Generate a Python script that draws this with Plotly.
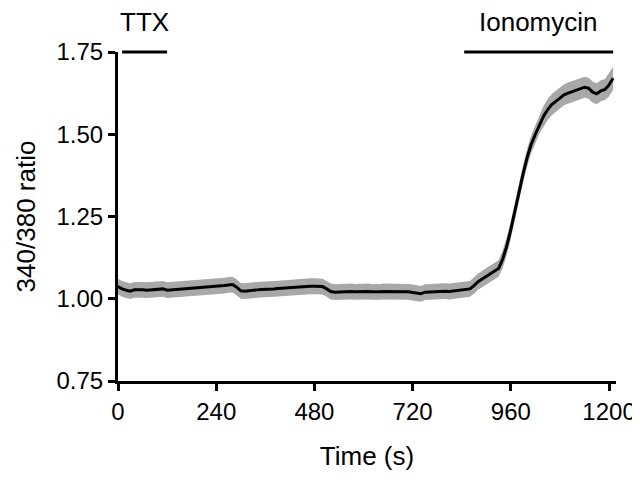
import plotly.graph_objects as go

# time points (s) and mean 340/380 ratio
time_s = list(range(0, 1220, 10))
ratio_mean = [
    1.037, 1.030, 1.026, 1.023, 1.027, 1.028, 1.027, 1.026, 1.027, 1.026,
    1.027, 1.030, 1.026, 1.027, 1.028, 1.029, 1.030, 1.030, 1.031, 1.031,
    1.032, 1.033, 1.034, 1.035, 1.036, 1.037, 1.040, 1.042, 1.043, 1.035,
    1.024, 1.023, 1.025, 1.026, 1.027, 1.028, 1.028, 1.029, 1.030, 1.031,
    1.032, 1.034, 1.035, 1.036, 1.037, 1.038, 1.039, 1.038, 1.038, 1.037,
    1.037, 1.030, 1.022, 1.020, 1.021, 1.021, 1.022, 1.022, 1.021, 1.022,
    1.021, 1.022, 1.021, 1.020, 1.021, 1.022, 1.022, 1.021, 1.022, 1.023,
    1.022, 1.021, 1.019, 1.016, 1.015, 1.020, 1.021, 1.022, 1.022, 1.023,
    1.023, 1.022, 1.024, 1.025, 1.027, 1.028, 1.030, 1.040, 1.052, 1.060,
    1.068, 1.075, 1.082, 1.092, 1.120, 1.160, 1.210, 1.270, 1.330, 1.380,
    1.430, 1.470, 1.500, 1.530, 1.555, 1.575, 1.590, 1.600, 1.610, 1.620,
    1.625, 1.630, 1.634, 1.638, 1.643, 1.640, 1.628, 1.623, 1.632, 1.636,
    1.650, 1.670,
]
# SEM
ratio_sem = [0.024] * 87 + [0.025] * 7 + [0.027] * 10 + [0.032] * 16 + [0.035] * 2

# treatment bars (start, end, label)
treatments = [(10, 120, "TTX"), (846, 1210, "Ionomycin")]

upper = [m + s for m, s in zip(ratio_mean, ratio_sem)]
lower = [m - s for m, s in zip(ratio_mean, ratio_sem)]

fig = go.Figure()
fig.add_trace(go.Scatter(x=time_s, y=upper, mode="lines", line=dict(width=0, color="#a8a8a8"),
                         showlegend=False, hoverinfo="skip"))
fig.add_trace(go.Scatter(x=time_s, y=lower, mode="lines", line=dict(width=0, color="#a8a8a8"),
                         fill="tonexty", fillcolor="#a8a8a8", showlegend=False, hoverinfo="skip"))
fig.add_trace(go.Scatter(x=time_s, y=ratio_mean, mode="lines", line=dict(width=3, color="black"),
                         showlegend=False))

for start, end, label in treatments:
    fig.add_shape(type="line", xref="x", yref="paper", x0=start, x1=end, y0=1, y1=1,
                  line=dict(color="black", width=3))
    fig.add_annotation(x=(start + end) / 2, y=1, xref="x", yref="paper", text=label,
                       showarrow=False, yanchor="bottom", yshift=13,
                       font=dict(size=26, color="black"))

axis_style = dict(showline=True, linewidth=3, linecolor="black", ticks="outside",
                  ticklen=7, tickwidth=3, tickcolor="black", showgrid=False, zeroline=False,
                  tickfont=dict(size=24, color="black"), title_font=dict(size=26, color="black"))

fig.update_xaxes(range=[0, 1217], tickvals=[0, 240, 480, 720, 960, 1200],
                 title_text="Time (s)", title_standoff=24, **axis_style)
fig.update_yaxes(range=[0.75, 1.75], tickvals=[0.75, 1.0, 1.25, 1.5, 1.75], tickformat=".2f",
                 title_text="340/380 ratio", title_standoff=14, **axis_style)

# page body adds an 8px offset, so margins are shifted to compensate
fig.update_layout(width=640, height=480, margin=dict(l=110, r=32, t=44, b=107),
                  plot_bgcolor="white", paper_bgcolor="white",
                  font=dict(family="Liberation Sans, Arial, sans-serif", color="black"))

fig.write_html("out.html")
